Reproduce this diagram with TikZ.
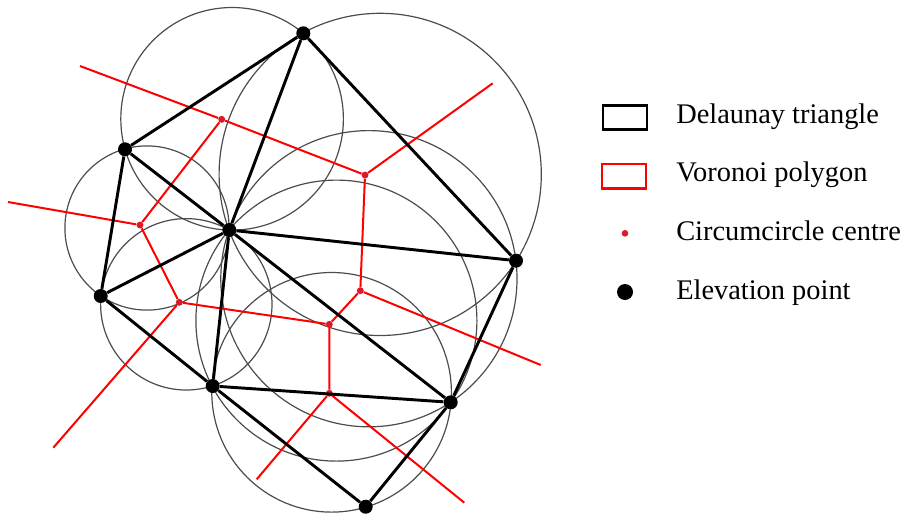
\documentclass[tikz,border=0pt]{standalone}
\usepackage{fontspec}
\setmainfont{Liberation Serif}
\usetikzlibrary{positioning}
\definecolor{dotred}{RGB}{222,24,40}

\begin{document}
\begin{tikzpicture}[x=0.75pt,y=0.75pt,
  pt/.style={circle,fill=black,inner sep=0pt,minimum size=10.5pt},
  cc/.style={circle,fill=dotred,inner sep=0pt,minimum size=5.2pt},
  del/.style={line width=2.2pt,black},
  vor/.style={line width=1.5pt,red},
  circ/.style={line width=0.9pt,black!70},
  lab/.style={anchor=base west,inner sep=0pt,font=\fontsize{21.3}{24}\selectfont}]
\useasboundingbox (0,0) rectangle (905,-519);

% circumcircles
\draw[circ] (232.1,-118.8) circle (111.3);
\draw[circ] (380.2,-174.4) circle (161.1);
\draw[circ] (147.0,-228.0) circle (82.1);
\draw[circ] (186.3,-304.3) circle (85.7);
\draw[circ] (336.4,-320.6) circle (140.5);
\draw[circ] (368.9,-278.7) circle (148.1);
\draw[circ] (331.6,-392.3) circle (119.8);

\path
(221.7,-119.3) node[cc] (c1) {}
(365,-175)     node[cc] (c2) {}
(140,-225)     node[cc] (c3) {}
(179.3,-302.3) node[cc] (c4) {}
(329.3,-324.3) node[cc] (c5) {}
(360.3,-290.7) node[cc] (c6) {}
(329.3,-393.3) node[cc] (c7) {}

(303.3,-33.3)  node[pt] (p1) {}
(125,-149.3)   node[pt] (p2) {}
(229.3,-230)   node[pt] (p3) {}
(100.7,-296)   node[pt] (p4) {}
(516,-260.7)   node[pt] (p5) {}
(212.7,-386)   node[pt] (p6) {}
(450.7,-402.3) node[pt] (p7) {}
(365.7,-506.7) node[pt] (p8) {};

\coordinate (e1) at (80,-66);
\coordinate (e2) at (492.7,-83.3);
\coordinate (e3) at (8,-202);
\coordinate (e4) at (53.3,-447.7);
\coordinate (e6) at (540.7,-365);
\coordinate (e7) at (256.7,-479.3);
\coordinate (e8) at (464.3,-502.7);

% voronoi
\draw[vor] (e1)--(c1)--(c2)--(e2);
\draw[vor] (c1)--(c3)--(e3);
\draw[vor] (c3)--(c4)--(e4);
\draw[vor] (c2)--(c6)--(e6);
\draw[vor] (c4)--(c5)--(c6);
\draw[vor] (c5)--(c7)--(e7);
\draw[vor] (c7)--(e8);

% delaunay
\draw[del] (p1)--(p2); \draw[del] (p1)--(p3); \draw[del] (p1)--(p5);
\draw[del] (p2)--(p3); \draw[del] (p2)--(p4); \draw[del] (p3)--(p4);
\draw[del] (p3)--(p5); \draw[del] (p3)--(p6); \draw[del] (p3)--(p7);
\draw[del] (p4)--(p6); \draw[del] (p6)--(p7); \draw[del] (p5)--(p7);
\draw[del] (p7)--(p8); \draw[del] (p6)--(p8);

% legend
\node[draw,line width=2.2pt,minimum width=33pt,minimum height=18pt] (kd) at (625,-117.3) {};
\node[draw=red,line width=2pt,minimum width=33pt,minimum height=18.5pt] (kv) at (624,-176.3) {};
\node[cc,minimum size=5pt] (kc) at (625,-233.3) {};
\node[pt,minimum size=12pt] (kp) at (625,-292) {};
\node[lab] (td) at (676,-123.3) {Delaunay triangle};
\node[lab] (tv) at (676,-181.7) {Voronoi polygon};
\node[lab] (tc) at (676,-240) {Circumcircle centre};
\node[lab] (tp) at (676,-299.3) {Elevation point};
\end{tikzpicture}
\end{document}
